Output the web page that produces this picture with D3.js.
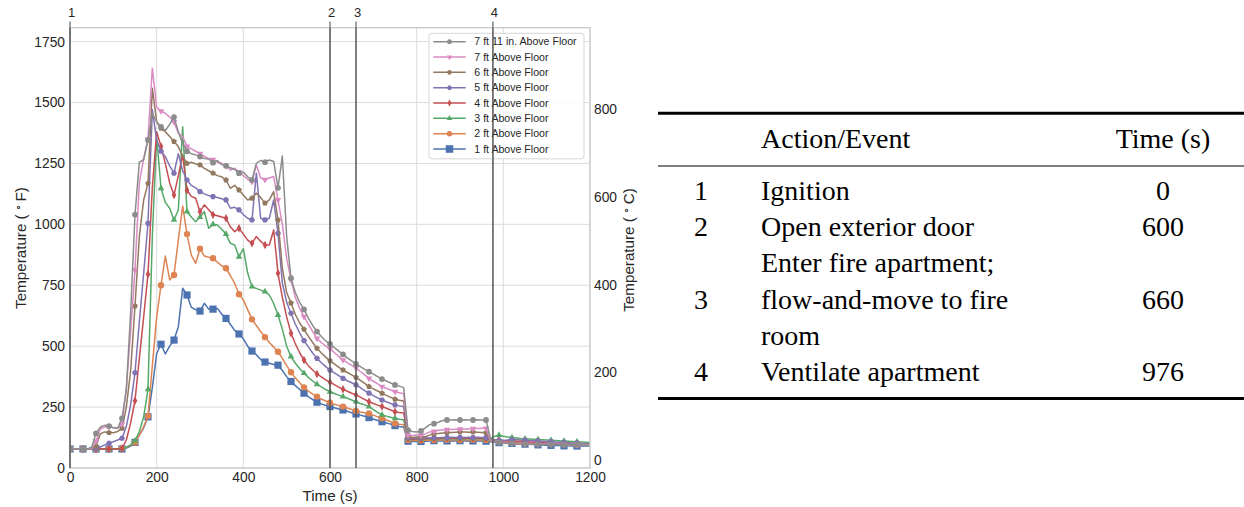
<!DOCTYPE html>
<html><head><meta charset="utf-8">
<script src="https://cdn.jsdelivr.net/npm/d3@7"></script>
<style>
body{margin:0;background:#fff;}
svg{display:block;}
</style></head><body>
<svg id="c" width="1244" height="507"></svg>
<script>
// ---------------- DATA ----------------
const times = d3.range(0, 1201, 10);

const seriesNames = ["1 ft Above Floor","2 ft Above Floor","3 ft Above Floor","4 ft Above Floor",
  "5 ft Above Floor","6 ft Above Floor","7 ft Above Floor","7 ft 11 in. Above Floor"];

const temp1ft = [
  78,78,78,78,78,78,78,78,78,78,
  78,78,78,82,90,105,135,165,210,330,
  470,508,468,500,525,580,738,710,660,649,
  644,676,652,652,655,632,614,590,565,550,
  530,500,480,465,445,435,430,425,422,400,
  375,355,338,322,307,293,281,270,263,257,
  252,247,242,238,233,227,222,217,212,207,
  201,195,190,185,180,174,170,168,110,109,
  110,109,110,111,112,111,112,111,112,111,
  112,111,112,111,112,111,110,108,106,104,
  103,102,101,100,99,98,97,96,95,94,
  93,93,92,92,91,91,90,90,90,90,
  90];
const temp2ft = [
  78,78,78,78,78,78,78,78,78,78,
  78,78,80,85,93,105,135,170,213,420,
  620,750,870,772,792,936,1075,960,874,840,
  900,870,865,861,845,830,820,790,758,713,
  690,650,610,585,560,537,515,497,477,450,
  420,393,370,350,331,316,303,293,283,275,
  268,262,257,252,246,240,234,230,227,224,
  217,210,204,197,190,183,180,178,115,113,
  114,113,115,114,115,116,115,116,115,116,
  115,116,115,116,115,116,115,112,110,108,
  107,106,105,104,103,102,101,100,100,99,
  99,98,98,97,97,96,96,95,95,95,
  95];
const temp3ft = [
  78,78,78,78,78,78,78,78,78,78,
  78,78,80,86,95,112,150,210,323,950,
  1360,1148,1090,1066,1018,1059,1400,1052,1030,1011,
  1030,1052,984,1000,997,980,960,922,915,867,
  900,800,744,737,730,724,710,675,628,570,
  500,457,430,408,389,372,357,343,333,322,
  313,306,299,293,286,279,272,265,259,252,
  240,228,218,213,208,204,200,198,120,118,
  119,118,120,119,120,121,120,121,120,121,
  120,121,120,121,120,121,120,120,130,135,
  130,127,125,123,121,120,119,118,117,116,
  115,114,113,112,111,110,109,108,107,106,
  105];
const temp4ft = [
  78,78,78,78,78,78,78,78,78,78,
  78,78,80,115,185,276,450,620,795,1150,
  1380,1320,1250,1170,1120,1200,1285,1140,1115,1107,
  1052,1080,1060,1039,1035,1030,1025,990,970,984,
  960,935,922,950,930,915,915,977,799,700,
  620,553,510,473,443,420,402,386,374,362,
  352,342,332,323,315,307,300,291,281,272,
  265,258,252,245,238,231,228,226,122,118,
  120,118,120,121,122,121,122,123,122,123,
  122,123,122,122,123,122,122,118,115,113,
  112,111,110,110,109,108,107,106,105,104,
  103,102,101,101,100,100,99,99,98,98,
  98];
const temp5ft = [
  78,78,78,78,78,78,80,86,95,101,
  108,115,122,170,260,391,600,800,1004,1470,
  1346,1300,1278,1240,1210,1290,1220,1182,1160,1150,
  1134,1125,1118,1114,1110,1105,1100,1066,1070,1059,
  1040,1025,1018,1210,1025,1018,1025,1100,963,760,
  680,635,590,555,523,497,472,450,432,416,
  402,390,379,368,358,350,341,330,318,307,
  297,288,279,272,265,259,255,252,125,122,
  123,122,124,123,125,124,125,125,126,125,
  126,125,126,125,126,125,125,118,115,114,
  113,115,117,116,115,114,113,112,111,110,
  109,108,107,106,105,104,103,102,101,100,
  100];
const temp6ft = [
  78,78,78,78,78,78,90,140,148,145,
  145,150,163,250,400,665,950,1100,1168,1558,
  1420,1394,1380,1360,1340,1319,1280,1250,1255,1248,
  1244,1230,1220,1210,1200,1195,1182,1148,1160,1141,
  1120,1100,1107,1128,1110,1087,1100,1134,1018,820,
  720,677,630,595,569,540,515,491,472,455,
  440,427,414,402,392,382,372,360,347,334,
  325,316,307,298,290,282,278,275,130,125,
  127,128,128,135,140,142,144,145,146,147,
  148,148,147,148,147,146,145,112,108,106,
  104,103,102,101,100,100,99,99,98,98,
  98,97,97,97,97,96,96,96,96,96,
  96];
const temp7ft = [
  78,78,78,78,78,80,110,160,168,170,
  165,165,180,330,560,813,1170,1271,1350,1641,
  1480,1465,1456,1440,1420,1374,1360,1320,1310,1300,
  1290,1280,1270,1265,1255,1250,1240,1223,1230,1215,
  1200,1185,1175,1244,1190,1183,1190,1196,1100,1000,
  860,772,700,655,621,590,560,532,515,500,
  489,474,458,443,432,421,411,396,382,368,
  356,345,334,327,320,313,309,305,135,133,
  135,135,140,148,150,155,156,157,158,159,
  159,160,160,161,162,163,163,115,108,106,
  104,102,101,100,100,99,99,98,98,98,
  97,97,97,97,96,96,96,96,96,96,
  96];
const temp7ft11 = [
  78,78,78,78,78,85,142,168,175,172,
  165,162,204,320,640,1040,1255,1265,1346,1456,
  1420,1400,1385,1410,1440,1380,1330,1300,1290,1285,
  1278,1270,1268,1253,1262,1245,1240,1232,1225,1210,
  1215,1195,1182,1250,1262,1255,1264,1258,1150,1280,
  950,779,720,680,651,615,585,560,540,522,
  509,494,480,466,452,440,427,416,405,395,
  385,375,365,357,349,341,336,330,155,150,
  148,152,165,178,182,188,195,197,197,198,
  197,198,197,197,198,197,197,122,108,105,
  103,101,100,99,99,98,98,97,97,97,
  96,96,96,95,95,95,95,95,94,94,
  94];

const xTicks = [0, 200, 400, 600, 800, 1000, 1200];
const yTicksF = [0, 250, 500, 750, 1000, 1250, 1500, 1750];
const yTicksC = [0, 200, 400, 600, 800];

const eventNumbers = ["1", "2", "3", "4"];
const eventTimes = [0, 600, 660, 976];
const eventActions = [["Ignition"], ["Open exterior door"],
  ["Enter fire apartment;", "flow-and-move to fire", "room"], ["Ventilate apartment"]];
const tableHeader = ["", "Action/Event", "Time (s)"];

// ---------------- STYLE ----------------
const seriesData = [temp1ft, temp2ft, temp3ft, temp4ft, temp5ft, temp6ft, temp7ft, temp7ft11];
const colors = ["#4C72B0", "#DD8452", "#55A868", "#C44E52", "#8172B3", "#937860", "#DA8BC3", "#8C8C8C"];
const markerTypes = ["square", "circle", "triUp", "thinDiamond", "hexagon", "pentagon", "triDown", "circle"];
const markerSizes = [3.6, 3.2, 3.8, 4.2, 3.0, 3.0, 3.8, 2.9];

const svg = d3.select("#c");
const L = 70, R = 590, T = 27.7, B = 468;
const x = d3.scaleLinear().domain([0, 1200]).range([L, R]);
const y = d3.scaleLinear().domain([0, 1807]).range([B, T]);
const fToC = f => (f - 32) * 5 / 9;

function polygon(n, r, rot) {
  const pts = d3.range(n).map(k => {
    const a = rot + k * 2 * Math.PI / n;
    return [r * Math.sin(a), -r * Math.cos(a)];
  });
  return "M" + pts.map(p => p[0].toFixed(2) + "," + p[1].toFixed(2)).join("L") + "Z";
}
function markerPath(type, r) {
  switch (type) {
    case "circle": return d3.symbol(d3.symbolCircle, Math.PI * r * r)();
    case "square": return `M${-r},${-r}h${2 * r}v${2 * r}h${-2 * r}Z`;
    case "triUp": return polygon(3, r, 0);
    case "triDown": return polygon(3, r, Math.PI);
    case "thinDiamond": return `M0,${-r}L${0.55 * r},0L0,${r}L${-0.55 * r},0Z`;
    case "pentagon": return polygon(5, r, 0);
    case "hexagon": return polygon(6, r, Math.PI / 6);
  }
}

const sans = "'Liberation Sans', Arial, sans-serif";
const serif = "'Liberation Serif', 'Times New Roman', serif";
const fmt = d3.format("d");

// clip
svg.append("defs").append("clipPath").attr("id", "clip")
  .append("rect").attr("x", L).attr("y", T).attr("width", R - L).attr("height", B - T);

// grid
const grid = svg.append("g");
grid.selectAll(".gx").data(xTicks).enter().append("line")
  .attr("x1", d => x(d)).attr("x2", d => x(d)).attr("y1", T).attr("y2", B)
  .attr("stroke", "#dcdcdc").attr("stroke-width", 1);
grid.selectAll(".gy").data(yTicksF).enter().append("line")
  .attr("x1", L).attr("x2", R).attr("y1", d => y(d)).attr("y2", d => y(d))
  .attr("stroke", "#dcdcdc").attr("stroke-width", 1);

// axes (labels only, via d3 axes)
const axB = svg.append("g").attr("transform", `translate(0,${B})`)
  .call(d3.axisBottom(x).tickValues(xTicks).tickFormat(fmt).tickSize(0).tickPadding(4));
const axL = svg.append("g").attr("transform", `translate(${L},0)`)
  .call(d3.axisLeft(y).tickValues(yTicksF).tickFormat(fmt).tickSize(0).tickPadding(5));
const yC = d3.scaleLinear().domain([fToC(0), fToC(1807)]).range([B, T]);
const axR = svg.append("g").attr("transform", `translate(${R},0)`)
  .call(d3.axisRight(yC).tickValues(yTicksC).tickFormat(fmt).tickSize(0).tickPadding(4));
[axB, axL, axR].forEach(a => {
  a.select(".domain").remove();
  a.selectAll("text").attr("font-family", sans).attr("font-size", 13.8).attr("fill", "#262626");
});

// series
const line = d3.line().x((d, i) => x(times[i])).y(d => y(d));
const plot = svg.append("g").attr("clip-path", "url(#clip)");
seriesData.forEach((data, s) => {
  const g = plot.append("g");
  g.append("path").datum(data).attr("d", line).attr("fill", "none")
    .attr("stroke", colors[s]).attr("stroke-width", 1.5).attr("stroke-linejoin", "round");
  const mk = data.map((v, i) => [times[i], v]).filter(d => d[0] % 30 === 0 && d[0] < 1200);
  g.selectAll("path.m").data(mk).enter().append("path").attr("class", "m")
    .attr("d", markerPath(markerTypes[s], markerSizes[s]))
    .attr("transform", d => `translate(${x(d[0])},${y(d[1])})`)
    .attr("fill", colors[s]);
});

// frame
svg.append("rect").attr("x", L).attr("y", T).attr("width", R - L).attr("height", B - T)
  .attr("fill", "none").attr("stroke", "#cccccc").attr("stroke-width", 1.4);

// legend
const lg = svg.append("g");
lg.append("rect").attr("x", 429).attr("y", 33.3).attr("width", 155).attr("height", 125.5)
  .attr("rx", 3).attr("fill", "#fff").attr("fill-opacity", 0.85)
  .attr("stroke", "#d6d6d6").attr("stroke-width", 1);
const order = d3.range(seriesData.length).reverse();
order.forEach((s, k) => {
  const yy = 41.7 + k * 15.33;
  lg.append("line").attr("x1", 433.3).attr("x2", 465.7).attr("y1", yy).attr("y2", yy)
    .attr("stroke", colors[s]).attr("stroke-width", 1.5);
  lg.append("path").attr("d", markerPath(markerTypes[s], markerSizes[s] * (s === 0 ? 1.05 : 0.85)))
    .attr("transform", `translate(449.5,${yy})`).attr("fill", colors[s]);
  lg.append("text").attr("x", 474.3).attr("y", yy).attr("dy", "0.35em")
    .attr("font-family", sans).attr("font-size", 10.6).attr("fill", "#262626")
    .text(seriesNames[s]);
});

// event lines
const ev = svg.append("g");
eventTimes.forEach((t, i) => {
  ev.append("line").attr("x1", x(t)).attr("x2", x(t)).attr("y1", T).attr("y2", B)
    .attr("stroke", "#555").attr("stroke-width", 1.5);
  ev.append("line").attr("x1", x(t)).attr("x2", x(t)).attr("y1", 21.5).attr("y2", T)
    .attr("stroke", "#444").attr("stroke-width", 1);
  ev.append("text").attr("x", x(t) + 1.5).attr("y", 17.3).attr("text-anchor", "middle")
    .attr("font-family", sans).attr("font-size", 13).attr("fill", "#262626").text(eventNumbers[i]);
});

// axis titles
function tempLabel(g, unit) {
  g.append("tspan").text("Temperature (");
  g.append("tspan").attr("font-size", "0.7em").attr("baseline-shift", "35%").text(" \u2218 ");
  g.append("tspan").text(unit + ")");
}
const tl = svg.append("text").attr("transform", "translate(26,248) rotate(-90)")
  .attr("text-anchor", "middle").attr("font-family", sans).attr("font-size", 15.2).attr("fill", "#262626");
tempLabel(tl, "F");
const tr = svg.append("text").attr("transform", "translate(634,250) rotate(-90)")
  .attr("text-anchor", "middle").attr("font-family", sans).attr("font-size", 15.2).attr("fill", "#262626");
tempLabel(tr, "C");
svg.append("text").attr("x", 330).attr("y", 501).attr("text-anchor", "middle")
  .attr("font-family", sans).attr("font-size", 15.2).attr("fill", "#262626").text("Time (s)");

// table
const tb = svg.append("g").attr("font-family", serif).attr("font-size", 28).attr("fill", "#000");
const tx1 = 658, tx2 = 1244, numX = 701, actX = 761, timeX = 1163;
tb.append("line").attr("x1", tx1).attr("x2", tx2).attr("y1", 113.3).attr("y2", 113.3)
  .attr("stroke", "#000").attr("stroke-width", 3);
tb.append("line").attr("x1", tx1).attr("x2", tx2).attr("y1", 166).attr("y2", 166)
  .attr("stroke", "#000").attr("stroke-width", 1.2);
tb.append("line").attr("x1", tx1).attr("x2", tx2).attr("y1", 398.5).attr("y2", 398.5)
  .attr("stroke", "#000").attr("stroke-width", 3);
tb.append("text").attr("x", actX).attr("y", 148).text(tableHeader[1]);
tb.append("text").attr("x", timeX).attr("y", 148).attr("text-anchor", "middle").text(tableHeader[2]);
let lineIdx = 0;
const base0 = 200, step = 36.2;
eventActions.forEach((lines, i) => {
  const mid = lineIdx + Math.floor(lines.length / 2);
  lines.forEach((txt, j) => {
    tb.append("text").attr("x", actX).attr("y", base0 + (lineIdx + j) * step).text(txt);
  });
  tb.append("text").attr("x", numX).attr("y", base0 + mid * step).attr("text-anchor", "middle").text(eventNumbers[i]);
  tb.append("text").attr("x", timeX).attr("y", base0 + mid * step).attr("text-anchor", "middle").text(eventTimes[i]);
  lineIdx += lines.length;
});
</script>
</body></html>
